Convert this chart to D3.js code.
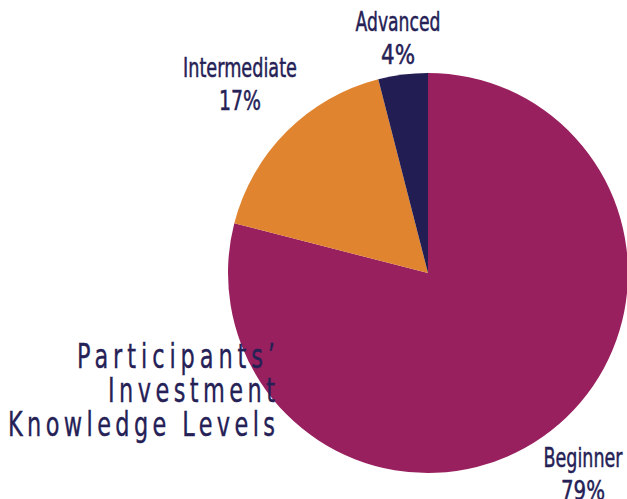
<!DOCTYPE html>
<html>
<head>
<meta charset="utf-8">
<script src="https://cdn.jsdelivr.net/npm/d3@7"></script>
<style>
  body { margin: 0; background: #fff; }
  text { font-family: "DejaVu Sans", sans-serif; fill: #252156; }
</style>
</head>
<body>
<div id="chart"></div>
<script>
const width = 627,
    height = 499;

// data
const levels = ["Beginner", "Intermediate", "Advanced"];
const shares = [79, 17, 4];
const colors = ["#98205E", "#E08430", "#221D52"];
const titleLines = ["Participants\u2019", "Investment", "Knowledge Levels"];

const cx = 428, cy = 273, radius = 200;

const svg = d3.select("#chart")
  .append("svg")
  .attr("width", width)
  .attr("height", height);

const data = levels.map((d, i) => ({ level: d, value: shares[i], color: colors[i] }));

const pie = d3.pie()
  .sort(null)
  .value(d => d.value);

const arc = d3.arc()
  .innerRadius(0)
  .outerRadius(radius);

const g = svg.append("g")
  .attr("transform", `translate(${cx}, ${cy})`);

g.selectAll("path")
  .data(pie(data))
  .join("path")
  .attr("d", arc)
  .attr("fill", d => d.data.color);

// slice labels, placed by hand like the original (x, baseline, name width, pct width)
const labelPos = {
  Beginner: [583, 467, 79, 44],
  Intermediate: [240, 77, 114, 42],
  Advanced: [398, 31, 85, 34]
};

data.forEach(d => {
  const [x, y, w1, w2] = labelPos[d.level];
  svg.append("text")
    .attr("x", x)
    .attr("y", y)
    .attr("text-anchor", "middle")
    .attr("textLength", w1)
    .attr("lengthAdjust", "spacingAndGlyphs")
    .style("font-size", "26px")
    .style("stroke", "#252156")
    .style("stroke-width", 0.5)
    .text(d.level);
  svg.append("text")
    .attr("x", x)
    .attr("y", y + 33)
    .attr("text-anchor", "middle")
    .attr("textLength", w2)
    .attr("lengthAdjust", "spacingAndGlyphs")
    .style("font-size", "26px")
    .style("stroke", "#252156")
    .style("stroke-width", 0.5)
    .text(d.value + "%");
});

// title: narrow glyphs, wide letter spacing
const titleWidths = [198, 167, 267];
const squeeze = 0.66;
svg.append("g")
  .selectAll("g")
  .data(titleLines)
  .join("g")
  .attr("transform", (d, i) => `translate(275, ${368 + i * 34}) scale(${squeeze}, 1)`)
  .append("text")
  .attr("x", 0)
  .attr("y", 0)
  .attr("text-anchor", "end")
  .attr("textLength", (d, i) => titleWidths[i] / squeeze)
  .attr("lengthAdjust", "spacing")
  .style("font-size", "34px")
  .style("stroke", "#252156")
  .style("stroke-width", 0.4)
  .text(d => d);
</script>
</body>
</html>
